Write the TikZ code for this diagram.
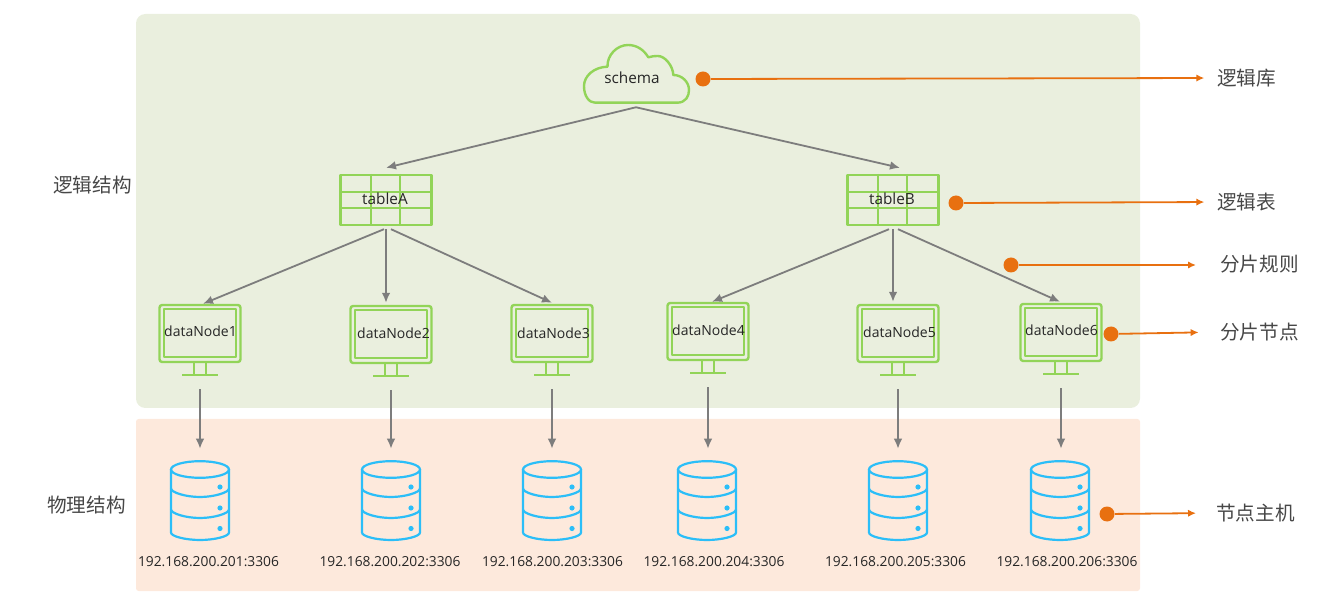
\documentclass[tikz,border=0pt]{standalone}
\usepackage{fontspec}
\setmainfont{Open Sans}
\newfontfamily\cjk{Noto Sans CJK SC}
\usetikzlibrary{
	calc,               %计算
	positioning,        %定位
	arrows.meta         %箭头
}
\definecolor{logicbg}{RGB}{234,239,222}
\definecolor{physbg}{RGB}{253,233,220}
\definecolor{icongreen}{RGB}{146,212,88}
\definecolor{iconblue}{RGB}{43,190,248}
\definecolor{markorange}{RGB}{232,112,16}
\definecolor{flowgray}{RGB}{125,125,125}
\def\px{0.75pt}
\tikzset{
	iconline/.style={draw=icongreen,line width=2.4*\px,line join=round},
	dbline/.style={draw=iconblue,line width=2.2*\px},
	screen/.style={iconline,rectangle,rounded corners=2pt,inner sep=0pt,minimum width=81*\px,minimum height=57*\px},
	gridbox/.style={iconline,rectangle,inner sep=0pt,minimum width=91*\px,minimum height=50*\px},
	iconbox/.style={rectangle,inner sep=0pt},
	flow/.style={-{Latex[length=7.5pt,width=6.5pt]},draw=flowgray,line width=1.8*\px},
	markdot/.style={circle,fill=markorange,inner sep=0pt,minimum size=15*\px},
	pointer/.style={-{Latex[length=6pt,width=5.5pt]},draw=markorange,line width=1.8*\px},
	name text/.style={text=black!85,inner sep=0pt,font=\fontsize{10.5}{12}\selectfont},
	big name/.style={name text,font=\fontsize{11.5}{13}\selectfont},
	ip text/.style={text=black!85,inner sep=0pt,font=\fontsize{10.35}{12}\selectfont},
	side text/.style={text=black!72,inner sep=0pt,font=\cjk\fontsize{14.7}{16}\selectfont}
}
\begin{document}
\begin{tikzpicture}[x=0.75pt,y=-0.75pt]
\useasboundingbox (0,0) rectangle (1338,605);

%两个背景区域
\fill[logicbg,rounded corners=7pt] (136,14) rectangle (1140,408);
\fill[physbg,rounded corners=2pt] (136,419) rectangle (1140,591);

%逻辑库
\node[iconbox,minimum width=106*\px,minimum height=58*\px] (schema) at (637,74) {};
\begin{scope}[shift={(schema.center)}]
\draw[iconline] (-42,28.7) -- (40,28.7)
	.. controls (49,28.7) and (52,22) .. (52,16)
	.. controls (52,8) and (45,1) .. (36.3,1)
	.. controls (36,-8) and (28,-18) .. (21,-18)
	.. controls (17,-18) and (14,-17.5) .. (11.3,-16.7)
	.. controls (7,-24) and (0,-29) .. (-9,-29)
	.. controls (-20,-29) and (-30,-19) .. (-29.5,-7.3)
	.. controls (-43,-7) and (-53,2) .. (-53,12)
	.. controls (-53,22) and (-48,28.7) .. (-42,28.7);
\end{scope}
\node[big name] (schemaname) at (632,78) {schema};
\coordinate (schemafoot) at ($(schema.south)+(-1,4)$);

%逻辑表
\foreach \t/\x in {A/386,B/893}{
	\node[gridbox] (table\t) at (\x,200) {};
	\foreach \d in {-15,14}
		\draw[iconline] ($(table\t.north)+(\d,0)$) -- ($(table\t.south)+(\d,0)$);
	\foreach \d in {-8,8}
		\draw[iconline] ($(table\t.west)+(0,\d)$) -- ($(table\t.east)+(0,\d)$);
	\node[big name] (tablename\t) at (\x-1,199) {table\t};
}

%分片节点
\foreach \i/\x/\y/\tx/\ty in {1/200/305/200.5/331,2/391/306/393.5/333,3/552/305/553.5/333,4/708/303/708.5/330,5/898/305/899.5/332,6/1061/304/1061.5/330}{
	\node[screen] (dn\i) at (\x,\y+28.5) {};
	\draw[iconline] ($(dn\i.north west)+(5.5,5)$) rectangle ($(dn\i.south east)+(-5.5,-6)$);
	\draw[iconline] ($(dn\i.south)+(-6,0)$) -- ++(0,12) ($(dn\i.south)+(6,0)$) -- ++(0,12);
	\draw[iconline] ($(dn\i.south)+(-18,12)$) -- ++(36,0);
	\node[name text] (dnname\i) at (\tx,\ty) {dataNode\i};
}

%节点主机
\foreach \i/\x/\ipx/\ip in {1/200/208.5/201,2/391/390/202,3/552/552.5/203,4/707/714/204,5/898/895.5/205,6/1060/1067/206}{
	\node[iconbox,minimum width=58*\px,minimum height=79*\px] (db\i) at (\x,500.5) {};
	\begin{scope}[shift={(db\i.center)}]
	\draw[dbline] (0,-31) ellipse [x radius=29,y radius=8.3];
	\draw[dbline] (-29,-31) -- (-29,32) .. controls (-29,36) and (-14,39.5) .. (0,39.5)
		.. controls (14,39.5) and (29,36) .. (29,32) -- (29,-31);
	\foreach \d in {-11,10}
		\draw[dbline] (-29,\d-1) .. controls (-29,\d+3) and (-14,\d+7.5) .. (0,\d+7.5)
			.. controls (14,\d+7.5) and (29,\d+3) .. (29,\d-1);
	\foreach \d in {-13.5,7.5,28}
		\fill[iconblue] (20,\d) circle (2.6);
	\end{scope}
	\node[ip text] (ip\i) at (\ipx,562) {192.168.200.\ip:3306};
}

%结构连线
\draw[flow] (schemafoot) -- ($(tableA.north)+(0,-6)$);
\draw[flow] (schemafoot) -- ($(tableB.north)+(7,-6)$);
\foreach \t/\dx/\i/\ex/\ey in {A/-2/1/3/0,A/0/2/-5/-2,A/5/3/0/-1,B/-4/4/4/0,B/0/5/-5/-2,B/5/6/-1/-1}
	\draw[flow] ($(table\t.south)+(\dx,3)$) -- ($(dn\i.north)+(\ex,\ey)$);
\foreach \i in {1,...,6}
	\draw[flow,shorten <=19.5pt,shorten >=9pt] (dn\i.south) -- (dn\i.south |- db\i.north);

%右侧说明
\node[markdot] (m1) at (703,79) {};
\node[markdot] (m2) at (956,203) {};
\node[markdot] (m3) at (1011,265) {};
\node[markdot] (m4) at (1111,334) {};
\node[markdot] (m5) at (1107,514) {};
\node[side text,anchor=west] (s1) at (1217,78) {逻辑库};
\node[side text,anchor=west] (s2) at (1217,202) {逻辑表};
\node[side text,anchor=west] (s3) at (1220,264) {分片规则};
\node[side text,anchor=west] (s4) at (1220,332) {分片节点};
\node[side text,anchor=west] (s5) at (1216,513) {节点主机};
\draw[pointer,shorten >=9.5pt] (m1) -- (s1.west);
\draw[pointer,shorten >=9.5pt] (m2) -- (s2.west);
\draw[pointer,shorten >=18pt] (m3) -- (s3.west |- m3);
\draw[pointer,shorten >=16pt] (m4) -- (s4.west);
\draw[pointer,shorten >=15pt] (m5) -- (s5.west);

%左侧说明
\node[side text] (logic) at (92.5,185) {逻辑结构};
\node[side text] (phys) at (86.5,505) {物理结构};
\end{tikzpicture}
\end{document}
